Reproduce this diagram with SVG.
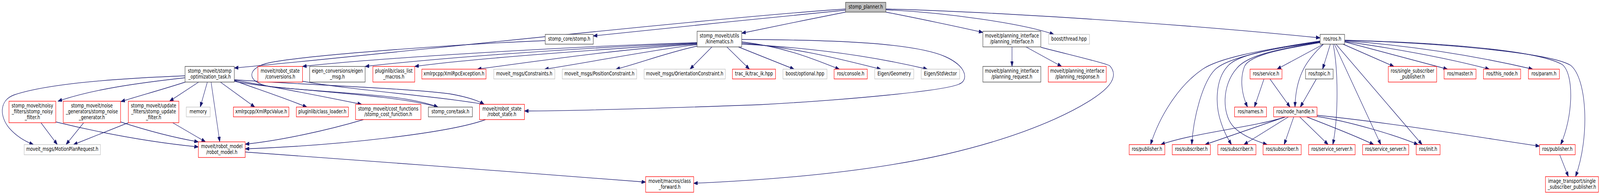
<svg xmlns="http://www.w3.org/2000/svg" width="5162" height="499" viewBox="0 0 5162 499" preserveAspectRatio="none">
<defs>
<marker id="ah" viewBox="0 0 13 9.4" refX="13" refY="4.7" markerWidth="13" markerHeight="9.4" markerUnits="userSpaceOnUse" orient="auto">
<path d="M0,0 L13,4.7 L0,9.4 z" fill="#191970" stroke="#191970" stroke-width="1"/>
</marker>
</defs>
<style>
svg{width:100vw;height:499px}
.e{fill:none;stroke:#191970;stroke-width:1.33;marker-end:url(#ah)}
.b{fill:#ffffff;stroke:#404040;stroke-width:1.33}
.r{fill:#ffffff;stroke:#ff0000;stroke-width:1.33}
.g{fill:#ffffff;stroke:#bfbfbf;stroke-width:1.33}
.root{fill:#bfbfbf;stroke:#404040;stroke-width:1.33}
text{font-family:"DejaVu Sans","Liberation Sans",sans-serif;font-size:13.33px;fill:#000000;text-anchor:middle}
</style>
<rect x="0" y="0" width="5162" height="499" fill="#ffffff"/>
<g id="edges">
<path class="e" d="M2728,23 C2300,45 1100,150 756,174"/>
<path class="e" d="M2728,26 C2500,42 2100,78 1914,92"/>
<path class="e" d="M2728,31 C2620,48 2480,70 2393,85"/>
<path class="e" d="M2858,31 C2950,45 3100,70 3171,83"/>
<path class="e" d="M2858,25 C3050,32 3300,60 3400,88"/>
<path class="e" d="M2858,23 C3200,30 3800,60 4259,97"/>
<path class="e" d="M1759,104 C1500,112 1000,140 872,160 C795,172 790,210 872,222 C1100,240 1300,240 1413,274"/>
<path class="e" d="M597,194 C400,200 160,212 45,243 C-5,258 0,300 30,328 C50,346 75,360 108,370"/>
<path class="e" d="M597,199 C450,212 300,228 187,259"/>
<path class="e" d="M598,210 C520,230 450,245 390,260"/>
<path class="e" d="M641,210 L547,259"/>
<path class="e" d="M669,210 L646,274"/>
<path class="e" d="M681,210 L709,363"/>
<path class="e" d="M711,210 L822,274"/>
<path class="e" d="M756,206 C800,220 900,245 990,274"/>
<path class="e" d="M756,205 C850,218 1000,240 1167,267"/>
<path class="e" d="M756,208 C900,232 1250,238 1413,274"/>
<path class="e" d="M756,204 C1000,218 1300,225 1450,240 C1500,247 1540,256 1562,267"/>
<path class="e" d="M976,208 C1150,232 1400,245 1562,267"/>
<path class="e" d="M132,314 L185,370"/>
<path class="e" d="M270,314 L213,370"/>
<path class="e" d="M414,314 L237,370"/>
<path class="e" d="M180,312 C350,345 500,365 640,376"/>
<path class="e" d="M389,312 C470,333 560,352 640,363"/>
<path class="e" d="M557,314 L663,363"/>
<path class="e" d="M1173,306 C1050,335 900,360 791,369"/>
<path class="e" d="M1567,306 C1450,340 1100,372 791,381"/>
<path class="e" d="M791,389 C1200,410 1700,445 2083,466"/>
<path class="e" d="M2249,109 C1800,120 1200,150 976,170"/>
<path class="e" d="M2249,110 C1800,125 1400,150 1178,170"/>
<path class="e" d="M2249,111 C1900,128 1500,152 1338,170"/>
<path class="e" d="M2249,113 C2000,125 1700,160 1540,177"/>
<path class="e" d="M2249,114 C2100,128 1900,160 1757,177"/>
<path class="e" d="M2249,118 C2150,135 2050,165 1987,177"/>
<path class="e" d="M2297,120 L2226,177"/>
<path class="e" d="M2345,120 L2418,177"/>
<path class="e" d="M2382,120 L2562,177"/>
<path class="e" d="M2393,107 C2550,122 2650,160 2708,177"/>
<path class="e" d="M2393,110 C2600,125 2750,160 2842,177"/>
<path class="e" d="M2393,113 C2700,125 2900,160 2992,177"/>
<path class="e" d="M2393,101 C2700,102 2950,110 3050,145 C3120,170 3125,205 3095,215 C3050,232 2750,255 2450,268 C2100,278 1850,284 1692,284"/>
<path class="e" d="M3265,120 L3265,170"/>
<path class="e" d="M3310,120 L3425,170"/>
<path class="e" d="M3358,121 C3450,140 3560,160 3580,168 C3600,185 3595,205 3570,225 C3520,265 3350,340 3050,395 C2800,440 2500,460 2238,469"/>
<path class="e" d="M4259,105 C4050,130 3930,150 3880,177 C3800,220 3740,300 3712,370"/>
<path class="e" d="M4259,106 C4050,130 3950,155 3920,178 C3880,210 3850,300 3845,370"/>
<path class="e" d="M4259,107 C4100,125 3990,140 3960,170 C3920,205 3920,270 3940,315 C3950,340 3962,355 3973,370"/>
<path class="e" d="M4259,108 C4100,128 4020,145 3990,175 C3940,220 3945,290 3975,320 C4000,345 4050,360 4088,370"/>
<path class="e" d="M4259,109 C4100,130 4030,145 4015,170 C4000,200 4005,240 4025,274"/>
<path class="e" d="M4270,113 L4120,177"/>
<path class="e" d="M4270,113 C4220,150 4180,190 4178,274"/>
<path class="e" d="M4292,113 L4267,177"/>
<path class="e" d="M4301,113 C4318,180 4318,300 4300,370"/>
<path class="e" d="M4305,113 L4455,370"/>
<path class="e" d="M4310,113 L4588,370"/>
<path class="e" d="M4333,113 L4497,170"/>
<path class="e" d="M4338,107 L4670,177"/>
<path class="e" d="M4338,106 C4550,130 4700,155 4805,177"/>
<path class="e" d="M4338,104 C4600,120 4800,150 4945,177"/>
<path class="e" d="M4338,103 C4600,108 4950,125 5040,165 C5080,190 5075,300 5035,370"/>
<path class="e" d="M4338,103 C4650,110 5000,135 5067,167 C5120,200 5130,350 5083,452"/>
<path class="e" d="M4147,299 C4050,325 3850,340 3745,370"/>
<path class="e" d="M4147,299 L3888,370"/>
<path class="e" d="M4157,299 L4013,370"/>
<path class="e" d="M4174,299 L4143,370"/>
<path class="e" d="M4193,299 L4285,370"/>
<path class="e" d="M4215,299 C4300,325 4380,350 4432,370"/>
<path class="e" d="M4249,298 C4350,310 4500,345 4575,370"/>
<path class="e" d="M4249,295 C4500,315 4800,355 4967,374"/>
<path class="e" d="M4078,202 L4047,274"/>
<path class="e" d="M4097,202 L4162,274"/>
<path class="e" d="M4247,202 L4195,274"/>
<path class="e" d="M5032,396 L5060,452"/>
</g>
<g id="n1"><rect class="root" x="2728" y="6" width="130" height="25"/><text x="2793" y="22.5">stomp_planner.h</text></g>
<g id="n2"><rect class="b" x="1759" y="88" width="155" height="25"/><text x="1836.5" y="104.5">stomp_core/stomp.h</text></g>
<g id="n3"><rect class="b" x="597" y="170" width="159" height="40"/><text x="676.5" y="186.5">stomp_moveit/stomp</text><text x="676.5" y="201.5">_optimization_task.h</text></g>
<g id="n4"><rect class="b" x="2249" y="80" width="144" height="40"/><text x="2321" y="96.5">stomp_moveit/utils</text><text x="2321" y="111.5">/kinematics.h</text></g>
<g id="n5"><rect class="b" x="3171" y="80" width="187" height="40"/><text x="3264.5" y="96.5">moveit/planning_interface</text><text x="3264.5" y="111.5">/planning_interface.h</text></g>
<g id="n6"><rect class="g" x="3383" y="88" width="132" height="25"/><text x="3449" y="104.5">boost/thread.hpp</text></g>
<g id="n7"><rect class="b" x="4259" y="88" width="79" height="25"/><text x="4298.5" y="104.5">ros/ros.h</text></g>
<g id="n8"><rect class="r" x="29" y="259" width="151" height="55"/><text x="104.5" y="275">stomp_moveit/noisy</text><text x="104.5" y="290">_filters/stomp_noisy</text><text x="104.5" y="305">_filter.h</text></g>
<g id="n9"><rect class="r" x="204" y="259" width="185" height="55"/><text x="296.5" y="275">stomp_moveit/noise</text><text x="296.5" y="290">_generators/stomp_noise</text><text x="296.5" y="305">_generator.h</text></g>
<g id="n10"><rect class="r" x="414" y="259" width="163" height="55"/><text x="495.5" y="275">stomp_moveit/update</text><text x="495.5" y="290">_filters/stomp_update</text><text x="495.5" y="305">_filter.h</text></g>
<g id="n11"><rect class="g" x="601" y="274" width="77" height="25"/><text x="639.5" y="290.5">memory</text></g>
<g id="n12"><rect class="r" x="640" y="363" width="151" height="40"/><text x="715.5" y="379.5">moveit/robot_model</text><text x="715.5" y="394.5">/robot_model.h</text></g>
<g id="n13"><rect class="r" x="753" y="274" width="179" height="25"/><text x="842.5" y="290.5">xmlrpcpp/XmlRpcValue.h</text></g>
<g id="n14"><rect class="r" x="832" y="170" width="144" height="40"/><text x="904" y="186.5">moveit/robot_state</text><text x="904" y="201.5">/conversions.h</text></g>
<g id="n15"><rect class="b" x="999" y="170" width="179" height="40"/><text x="1088.5" y="186.5">eigen_conversions/eigen</text><text x="1088.5" y="201.5">_msg.h</text></g>
<g id="n16"><rect class="r" x="1203" y="170" width="135" height="40"/><text x="1270.5" y="186.5">pluginlib/class_list</text><text x="1270.5" y="201.5">_macros.h</text></g>
<g id="n17"><rect class="r" x="956" y="274" width="168" height="25"/><text x="1040" y="290.5">pluginlib/class_loader.h</text></g>
<g id="n18"><rect class="r" x="1147" y="267" width="211" height="39"/><text x="1252.5" y="283">stomp_moveit/cost_functions</text><text x="1252.5" y="297.5">/stomp_cost_function.h</text></g>
<g id="n19"><rect class="r" x="1361" y="177" width="207" height="25"/><text x="1464.5" y="193.5">xmlrpcpp/XmlRpcException.h</text></g>
<g id="n20"><rect class="g" x="1593" y="177" width="197" height="25"/><text x="1691.5" y="193.5">moveit_msgs/Constraints.h</text></g>
<g id="n21"><rect class="b" x="1382" y="274" width="142" height="25"/><text x="1453" y="290.5">stomp_core/task.h</text></g>
<g id="n22"><rect class="r" x="1547" y="267" width="145" height="39"/><text x="1619.5" y="283">moveit/robot_state</text><text x="1619.5" y="297.5">/robot_state.h</text></g>
<g id="n23"><rect class="g" x="1814" y="177" width="240" height="25"/><text x="1934" y="193.5">moveit_msgs/PositionConstraint.h</text></g>
<g id="n24"><rect class="g" x="2078" y="177" width="262" height="25"/><text x="2209" y="193.5">moveit_msgs/OrientationConstraint.h</text></g>
<g id="n25"><rect class="r" x="2083" y="452" width="155" height="40"/><text x="2160.5" y="468.5">moveit/macros/class</text><text x="2160.5" y="483">_forward.h</text></g>
<g id="n26"><rect class="r" x="2363" y="177" width="139" height="25"/><text x="2432.5" y="193.5">trac_ik/trac_ik.hpp</text></g>
<g id="n27"><rect class="g" x="2526" y="177" width="142" height="25"/><text x="2597" y="193.5">boost/optional.hpp</text></g>
<g id="n28"><rect class="r" x="2691" y="177" width="107" height="25"/><text x="2744.5" y="193.5">ros/console.h</text></g>
<g id="n29"><rect class="g" x="2822" y="177" width="126" height="25"/><text x="2885" y="193.5">Eigen/Geometry</text></g>
<g id="n30"><rect class="g" x="2972" y="177" width="124" height="25"/><text x="3034" y="193.5">Eigen/StdVector</text></g>
<g id="n31"><rect class="b" x="3171" y="170" width="187" height="40"/><text x="3264.5" y="186.5">moveit/planning_interface</text><text x="3264.5" y="201.5">/planning_request.h</text></g>
<g id="n32"><rect class="r" x="3382" y="170" width="187" height="40"/><text x="3475.5" y="186.5">moveit/planning_interface</text><text x="3475.5" y="201.5">/planning_response.h</text></g>
<g id="n33"><rect class="r" x="3643" y="370" width="115" height="26"/><text x="3700.5" y="386.5">ros/publisher.h</text></g>
<g id="n34"><rect class="r" x="3782" y="370" width="123" height="26"/><text x="3843.5" y="386.5">ros/subscriber.h</text></g>
<g id="n35"><rect class="r" x="4033" y="177" width="103" height="25"/><text x="4084.5" y="193.5">ros/service.h</text></g>
<g id="n36"><rect class="b" x="4212" y="177" width="89" height="25"/><text x="4256.5" y="193.5">ros/topic.h</text></g>
<g id="n37"><rect class="r" x="3983" y="274" width="103" height="25"/><text x="4034.5" y="290.5">ros/names.h</text></g>
<g id="n38"><rect class="r" x="4109" y="274" width="140" height="25"/><text x="4179" y="290.5">ros/node_handle.h</text></g>
<g id="n39"><rect class="r" x="3929" y="370" width="123" height="26"/><text x="3990.5" y="386.5">ros/subscriber.h</text></g>
<g id="n40"><rect class="r" x="4075" y="370" width="123" height="26"/><text x="4136.5" y="386.5">ros/subscriber.h</text></g>
<g id="n41"><rect class="r" x="4222" y="370" width="150" height="26"/><text x="4297" y="386.5">ros/service_server.h</text></g>
<g id="n42"><rect class="r" x="4396" y="370" width="149" height="26"/><text x="4470.5" y="386.5">ros/service_server.h</text></g>
<g id="n43"><rect class="r" x="4569" y="370" width="77" height="26"/><text x="4607.5" y="386.5">ros/init.h</text></g>
<g id="n44"><rect class="r" x="4479" y="170" width="156" height="40"/><text x="4557" y="186.5">ros/single_subscriber</text><text x="4557" y="201.5">_publisher.h</text></g>
<g id="n45"><rect class="r" x="4659" y="177" width="103" height="25"/><text x="4710.5" y="193.5">ros/master.h</text></g>
<g id="n46"><rect class="r" x="4786" y="177" width="120" height="25"/><text x="4846" y="193.5">ros/this_node.h</text></g>
<g id="n47"><rect class="r" x="4931" y="177" width="100" height="25"/><text x="4981" y="193.5">ros/param.h</text></g>
<g id="n48"><rect class="r" x="4967" y="370" width="115" height="26"/><text x="5024.5" y="386.5">ros/publisher.h</text></g>
<g id="n49"><rect class="r" x="4986" y="452" width="171" height="40"/><text x="5071.5" y="468.5">image_transport/single</text><text x="5071.5" y="483">_subscriber_publisher.h</text></g>
<g id="n50"><rect class="g" x="78" y="370" width="246" height="26"/><text x="201" y="386.5">moveit_msgs/MotionPlanRequest.h</text></g>
</svg>
